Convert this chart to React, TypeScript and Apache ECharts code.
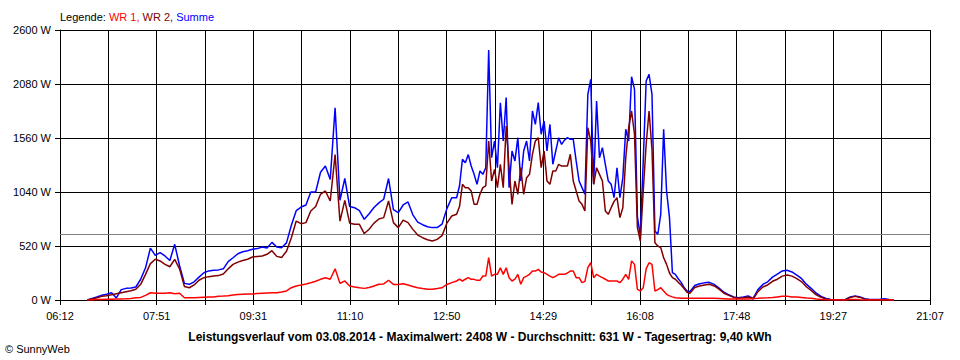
import React, { useEffect, useRef } from "react";
import * as echarts from "echarts";

const FONT = '"Liberation Sans", Arial, sans-serif';

const AXIS_START = "06:12";
const AXIS_END = "21:07";
const GRID_DIVISIONS = 18;
const X_TICK_LABELS = ["06:12", "07:51", "09:31", "11:10", "12:50", "14:29", "16:08", "17:48", "19:27", "21:07"];
const Y_MAX = 2600;
const Y_STEP = 520;
const AVERAGE_W = 631;

const LEGEND_PARTS = ["Legende: ", "WR 1,", " WR 2,", " Summe"];
const FOOTER_TEXT =
  "Leistungsverlauf vom 03.08.2014 - Maximalwert: 2408 W - Durchschnitt: 631 W - Tagesertrag: 9,40 kWh";
const COPYRIGHT = "© SunnyWeb";

// sampling blocks: start time, step in minutes, number of samples
const SAMPLE_BLOCKS = [
  { start: "06:40", step: 5, count: 76 },
  { start: "13:00", step: 3, count: 80 },
  { start: "17:00", step: 5, count: 43 },
];

const SUMME = [
  // morning 06:40 - 12:55 (5 min)
  0, 15, 30, 45, 55, 70, 20, 100, 112, 115,
  125, 200, 310, 500, 430, 456, 424, 380, 536, 330,
  160, 151, 175, 220, 262, 280, 286, 290, 300, 370,
  407, 445, 465, 475, 488, 495, 510, 500, 555, 510,
  504, 550, 720, 860, 895, 915, 1040, 1040, 1230, 1290,
  1160, 1850, 960, 1170, 900, 889, 860, 777, 830, 890,
  935, 970, 1170, 870, 841, 915, 944, 820, 750, 725,
  705, 697, 697, 730, 880, 985,
  // midday 13:00 - 16:57 (3 min)
  985, 1100, 1355, 1322, 1400, 1290, 1210, 1114, 1242, 1210,
  1274, 2408, 1370, 1531, 1274, 1900, 1531, 1950, 1082, 1435,
  1339, 1563, 1146, 1435, 1531, 1339, 1820, 1692, 1900, 1596,
  1724, 1435, 1692, 1307, 1435, 1563, 1499, 1540, 1563, 1547,
  1547, 1339, 1146, 1082, 1018, 1981, 2125, 1114, 1916, 1370,
  1467, 1307, 1146, 1114, 985, 1274, 985, 1178, 1644, 1531,
  2150, 2030, 800, 620, 1339, 2109, 2173, 1981, 665, 633,
  825, 1644, 1050, 793, 263, 247, 205, 170, 120, 87,
  // evening 17:00 - 20:30 (5 min)
  80, 140, 157, 165, 170, 150, 115, 75, 50, 30,
  22, 30, 39, 15, 100, 150, 175, 220, 250, 280,
  286, 270, 240, 205, 150, 110, 65, 35, 15, 5,
  0, 0, 5, 30, 39, 30, 13, 5, 5, 5,
  12, 5, 0,
];

const WR2 = [
  0, 10, 22, 35, 42, 50, 60, 70, 80, 90,
  103, 151, 247, 350, 392, 376, 343, 320, 392, 300,
  130, 118, 145, 190, 215, 225, 231, 235, 250, 300,
  343, 365, 380, 392, 414, 420, 424, 440, 475, 420,
  410, 470, 600, 760, 735, 745, 857, 900, 1018, 1050,
  953, 1400, 760, 960, 740, 729, 729, 640, 681, 740,
  780, 793, 953, 745, 697, 770, 745, 680, 625, 600,
  580, 568, 584, 620, 740, 809,
  825, 900, 1114, 1082, 1082, 1050, 921, 921, 1018, 1082,
  1100, 1531, 1146, 1258, 1082, 1307, 1082, 1676, 1274, 921,
  1146, 1018, 1274, 1018, 1178, 1210, 1403, 1531, 1563, 1274,
  1435, 1146, 1114, 1242, 1242, 1307, 1290, 1290, 1290, 1403,
  1146, 1050, 953, 921, 857, 1659, 1531, 1114, 1274, 1210,
  1146, 857, 825, 889, 950, 985, 793, 889, 1370, 1659,
  1820, 1596, 697, 568, 1050, 1500, 1820, 1451, 552, 520,
  504, 407, 343, 260, 215, 200, 170, 145, 110, 75,
  65, 120, 135, 145, 151, 135, 105, 65, 45, 25,
  16, 22, 29, 10, 80, 125, 145, 180, 200, 230,
  241, 230, 205, 175, 125, 90, 50, 25, 10, 3,
  0, 0, 3, 25, 35, 25, 8, 3, 2, 2,
  3, 2, 0,
];

const WR1 = [
  0, 0, 5, 5, 8, 8, 10, 10, 12, 15,
  22, 25, 45, 70, 65, 65, 65, 70, 60, 65,
  22, 22, 22, 25, 27, 29, 30, 35, 38, 42,
  48, 52, 55, 58, 58, 62, 65, 68, 70, 70,
  78, 87, 118, 135, 144, 155, 167, 180, 199, 215,
  200, 300, 160, 183, 135, 125, 118, 112, 120, 135,
  151, 155, 190, 150, 150, 157, 145, 130, 118, 110,
  103, 103, 110, 118, 150, 167,
  183, 200, 183, 200, 215, 199, 199, 189, 189, 231,
  231, 407, 231, 247, 247, 311, 247, 311, 215, 183,
  200, 247, 151, 215, 230, 247, 279, 279, 295, 270,
  263, 247, 230, 215, 230, 247, 247, 247, 260, 279,
  279, 215, 215, 167, 180, 311, 359, 215, 247, 230,
  215, 200, 183, 183, 183, 183, 167, 200, 247, 199,
  376, 343, 103, 87, 118, 300, 359, 343, 87, 100,
  118, 87, 55, 40, 30, 22, 20, 18, 16, 16,
  16, 16, 16, 16, 16, 16, 14, 12, 10, 10,
  10, 10, 10, 14, 16, 20, 22, 25, 30, 35,
  35, 30, 29, 25, 20, 16, 10, 5, 3, 2,
  0, 0, 0, 5, 5, 2, 0, 0, 0, 0,
  0, 0, 0,
];

const toMin = (s: string) => {
  const [h, m] = s.split(":").map(Number);
  return h * 60 + m;
};

export default function App() {
  const ref = useRef<HTMLDivElement>(null);

  useEffect(() => {
    document.body.style.margin = "0";
    if (!ref.current) return;
    const chart = echarts.init(ref.current, undefined, { renderer: "svg" });

    const t0 = toMin(AXIS_START);
    const unit = (toMin(AXIS_END) - t0) / GRID_DIVISIONS;
    const times: number[] = [];
    SAMPLE_BLOCKS.forEach((b) => {
      for (let i = 0; i < b.count; i++) times.push(toMin(b.start) + i * b.step);
    });
    const toData = (arr: number[]) => times.map((t, i) => [(t - t0) / unit, arr[i]]);

    const baseLine = (name: string, color: string, arr: number[], extra: any = {}) => ({
      name,
      type: "line",
      data: toData(arr),
      showSymbol: false,
      symbol: "none",
      lineStyle: { color, width: 1.5 },
      itemStyle: { color },
      silent: true,
      ...extra,
    });

    chart.setOption({
      animation: false,
      backgroundColor: "#ffffff",
      grid: { left: 60, top: 30, width: 870, height: 270, containLabel: false },
      xAxis: {
        type: "value",
        min: 0,
        max: GRID_DIVISIONS,
        interval: 1,
        axisLine: { show: true, lineStyle: { color: "#000", width: 1 } },
        axisTick: { show: true, length: 5, lineStyle: { color: "#000", width: 1 } },
        axisLabel: {
          color: "#000",
          fontSize: 11,
          fontFamily: FONT,
          margin: 10,
          showMinLabel: true,
          showMaxLabel: true,
          formatter: (v: number) => {
            const i = Math.round(v);
            return i % 2 === 0 ? X_TICK_LABELS[i / 2] : "";
          },
        },
        splitLine: { show: true, lineStyle: { color: "#000", width: 1 } },
      },
      yAxis: {
        type: "value",
        min: 0,
        max: Y_MAX,
        interval: Y_STEP,
        axisLine: { show: true, lineStyle: { color: "#000", width: 1 } },
        axisTick: { show: true, length: 5, lineStyle: { color: "#000", width: 1 } },
        axisLabel: {
          color: "#000",
          fontSize: 11,
          fontFamily: FONT,
          margin: 9,
          formatter: (v: number) => `${Math.round(v)} W`,
        },
        splitLine: { show: true, lineStyle: { color: "#000", width: 1 } },
      },
      series: [
        baseLine("Summe", "#0000ff", SUMME, {
          markLine: {
            silent: true,
            symbol: ["none", "none"],
            label: { show: false },
            lineStyle: { color: "#808080", type: "solid", width: 1 },
            data: [{ yAxis: AVERAGE_W }],
            z: 1,
          },
        }),
        baseLine("WR 2", "#800000", WR2),
        baseLine("WR 1", "#ff0000", WR1),
      ],
      graphic: [
        {
          type: "text",
          x: 60,
          y: 17,
          style: {
            text: `{k|${LEGEND_PARTS[0]}}{r|${LEGEND_PARTS[1]}}{d|${LEGEND_PARTS[2]}}{b|${LEGEND_PARTS[3]}}`,
            fontSize: 11,
            fontFamily: FONT,
            verticalAlign: "middle",
            align: "left",
            rich: {
              k: { fill: "#000000", fontSize: 11, fontFamily: FONT },
              r: { fill: "#ff0000", fontSize: 11, fontFamily: FONT },
              d: { fill: "#800000", fontSize: 11, fontFamily: FONT },
              b: { fill: "#0000ff", fontSize: 11, fontFamily: FONT },
            },
          },
        },
        {
          type: "text",
          x: 480,
          y: 337,
          style: {
            text: FOOTER_TEXT,
            fill: "#000",
            fontSize: 12,
            fontWeight: "bold",
            fontFamily: FONT,
            align: "center",
            verticalAlign: "middle",
          },
        },
        {
          type: "text",
          x: 5,
          y: 349,
          style: {
            text: COPYRIGHT,
            fill: "#000",
            fontSize: 11,
            fontFamily: FONT,
            align: "left",
            verticalAlign: "middle",
          },
        },
      ],
    });

    return () => chart.dispose();
  }, []);

  return <div ref={ref} style={{ width: 960, height: 360 }} />;
}
